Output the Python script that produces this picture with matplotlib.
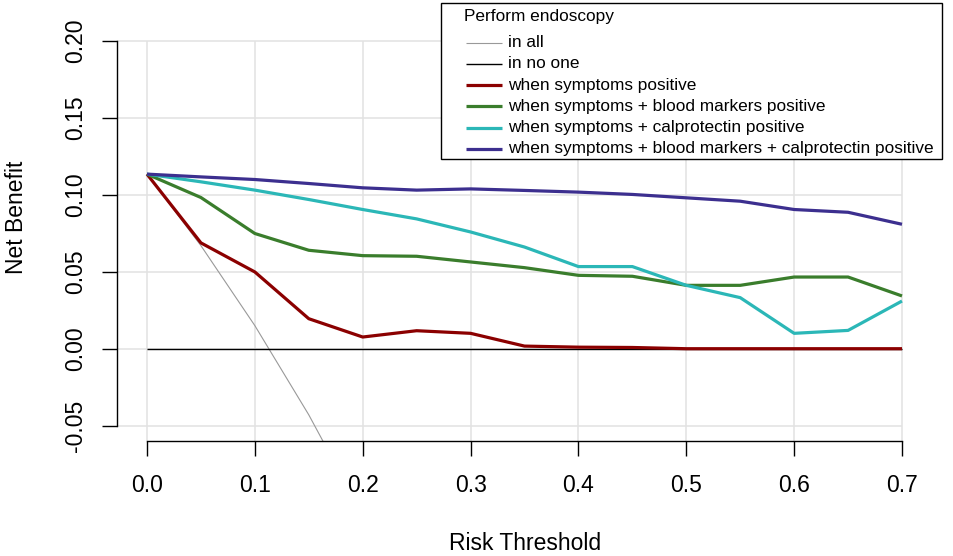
import matplotlib
matplotlib.use("Agg")
import matplotlib.pyplot as plt
from matplotlib.lines import Line2D
from matplotlib.patches import Rectangle

# risk thresholds and net benefit of each strategy
thresholds = [0.0, 0.05, 0.1, 0.15, 0.2, 0.25, 0.3, 0.35, 0.4, 0.45, 0.5, 0.55, 0.6, 0.65, 0.7]
all_thresholds = [0.0, 0.05, 0.1, 0.15, 0.2]
nb_all = [0.1135, 0.067, 0.015, -0.043, -0.108]
nb_none = [0.0] * 15
nb_symptoms = [0.1135, 0.0688, 0.0499, 0.0195, 0.0076, 0.0117, 0.0100, 0.0017,
               0.0010, 0.0008, 0.0, 0.0, 0.0, 0.0, 0.0]
nb_blood = [0.1135, 0.0983, 0.0749, 0.0640, 0.0605, 0.0601, 0.0564, 0.0527,
            0.0477, 0.0471, 0.0412, 0.0412, 0.0466, 0.0466, 0.0343]
nb_calpro = [0.1135, 0.1085, 0.1031, 0.0970, 0.0905, 0.0844, 0.0759, 0.0661,
             0.0534, 0.0534, 0.0412, 0.0332, 0.0100, 0.0119, 0.0310]
nb_both = [0.1135, 0.1117, 0.1100, 0.1074, 0.1046, 0.1031, 0.1039, 0.1029,
           0.1018, 0.1003, 0.0981, 0.0959, 0.0905, 0.0887, 0.0809]

xticks = [0.0, 0.1, 0.2, 0.3, 0.4, 0.5, 0.6, 0.7]
yticks = [-0.05, 0.0, 0.05, 0.10, 0.15, 0.20]
ytick_labels = ["-0.05", "0.00", "0.05", "0.10", "0.15", "0.20"]

legend_title = "Perform endoscopy"
legend_labels = ["in all", "in no one", "when symptoms positive",
                 "when symptoms + blood markers positive",
                 "when symptoms + calprotectin positive",
                 "when symptoms + blood markers + calprotectin positive"]
colors = ["#999999", "#000000", "#8B0000", "#3A7D2C", "#2BB7B7", "#3C2F8F"]
widths = [0.8, 1.0, 2.3, 2.3, 2.3, 2.3]

plt.rcParams["font.family"] = ["Liberation Sans", "DejaVu Sans"]

W, H = 954, 556
fig = plt.figure(figsize=(W / 100, H / 100), dpi=100)
ax = fig.add_axes([116.8 / W, 1 - 441 / H, 815.4 / W, 415.3 / H])
ax.set_xlim(-0.028, 0.728)
ax.set_ylim(-0.06, 0.21)

# light grid, limited to the tick range like the original
ax.hlines(yticks, -0.028, 0.7, colors="#E2E2E2", lw=1.1, zorder=0)
ax.vlines(xticks, -0.06, 0.2, colors="#E2E2E2", lw=1.1, zorder=0)

series = [(all_thresholds, nb_all), (thresholds, nb_none), (thresholds, nb_symptoms),
          (thresholds, nb_blood), (thresholds, nb_calpro), (thresholds, nb_both)]
for (xs, ys), c, w in zip(series, colors, widths):
    ax.plot(xs, ys, color=c, lw=w, solid_capstyle="butt")

for s in ["top", "right"]:
    ax.spines[s].set_visible(False)
ax.spines["left"].set_bounds(-0.05, 0.2)
ax.spines["bottom"].set_bounds(0, 0.7)
ax.spines["left"].set_linewidth(1.0)
ax.spines["bottom"].set_linewidth(1.0)

ax.set_xticks(xticks)
ax.set_xticklabels(["%.1f" % t for t in xticks])
ax.set_yticks(yticks)
ax.set_yticklabels(ytick_labels, rotation=90, va="center")
ax.tick_params(axis="x", length=10.8, width=1.0, pad=13, labelsize=16.5)
ax.tick_params(axis="y", length=10.5, width=1.0, pad=11, labelsize=16.5)

fig.text(16.5 / W, 1 - 217.5 / H, "Net Benefit", rotation=90, ha="center", va="center", fontsize=16.5)
fig.text(525 / W, 1 - 550 / H, "Risk Threshold", ha="center", va="baseline", fontsize=16.5)

# legend drawn by hand to get the R-style box
fig.add_artist(Rectangle((441 / W, 1 - 159 / H), 500.7 / W, 155.7 / H,
                         transform=fig.transFigure, facecolor="white",
                         edgecolor="black", lw=1.0, zorder=5))
fig.text(464 / W, 1 - 16.7 / H, legend_title, ha="left", va="center", fontsize=12.4, zorder=6)
for i, (lab, c, w) in enumerate(zip(legend_labels, colors, widths)):
    yy = 1 - (42.7 + i * 21.25) / H
    fig.add_artist(Line2D([466 / W, 501.7 / W], [yy, yy], transform=fig.transFigure,
                          color=c, lw=w, solid_capstyle="butt", zorder=6))
    fig.text(508.3 / W, yy, lab, ha="left", va="center", fontsize=12.4, zorder=6)

fig.savefig("out.png", dpi=100)
